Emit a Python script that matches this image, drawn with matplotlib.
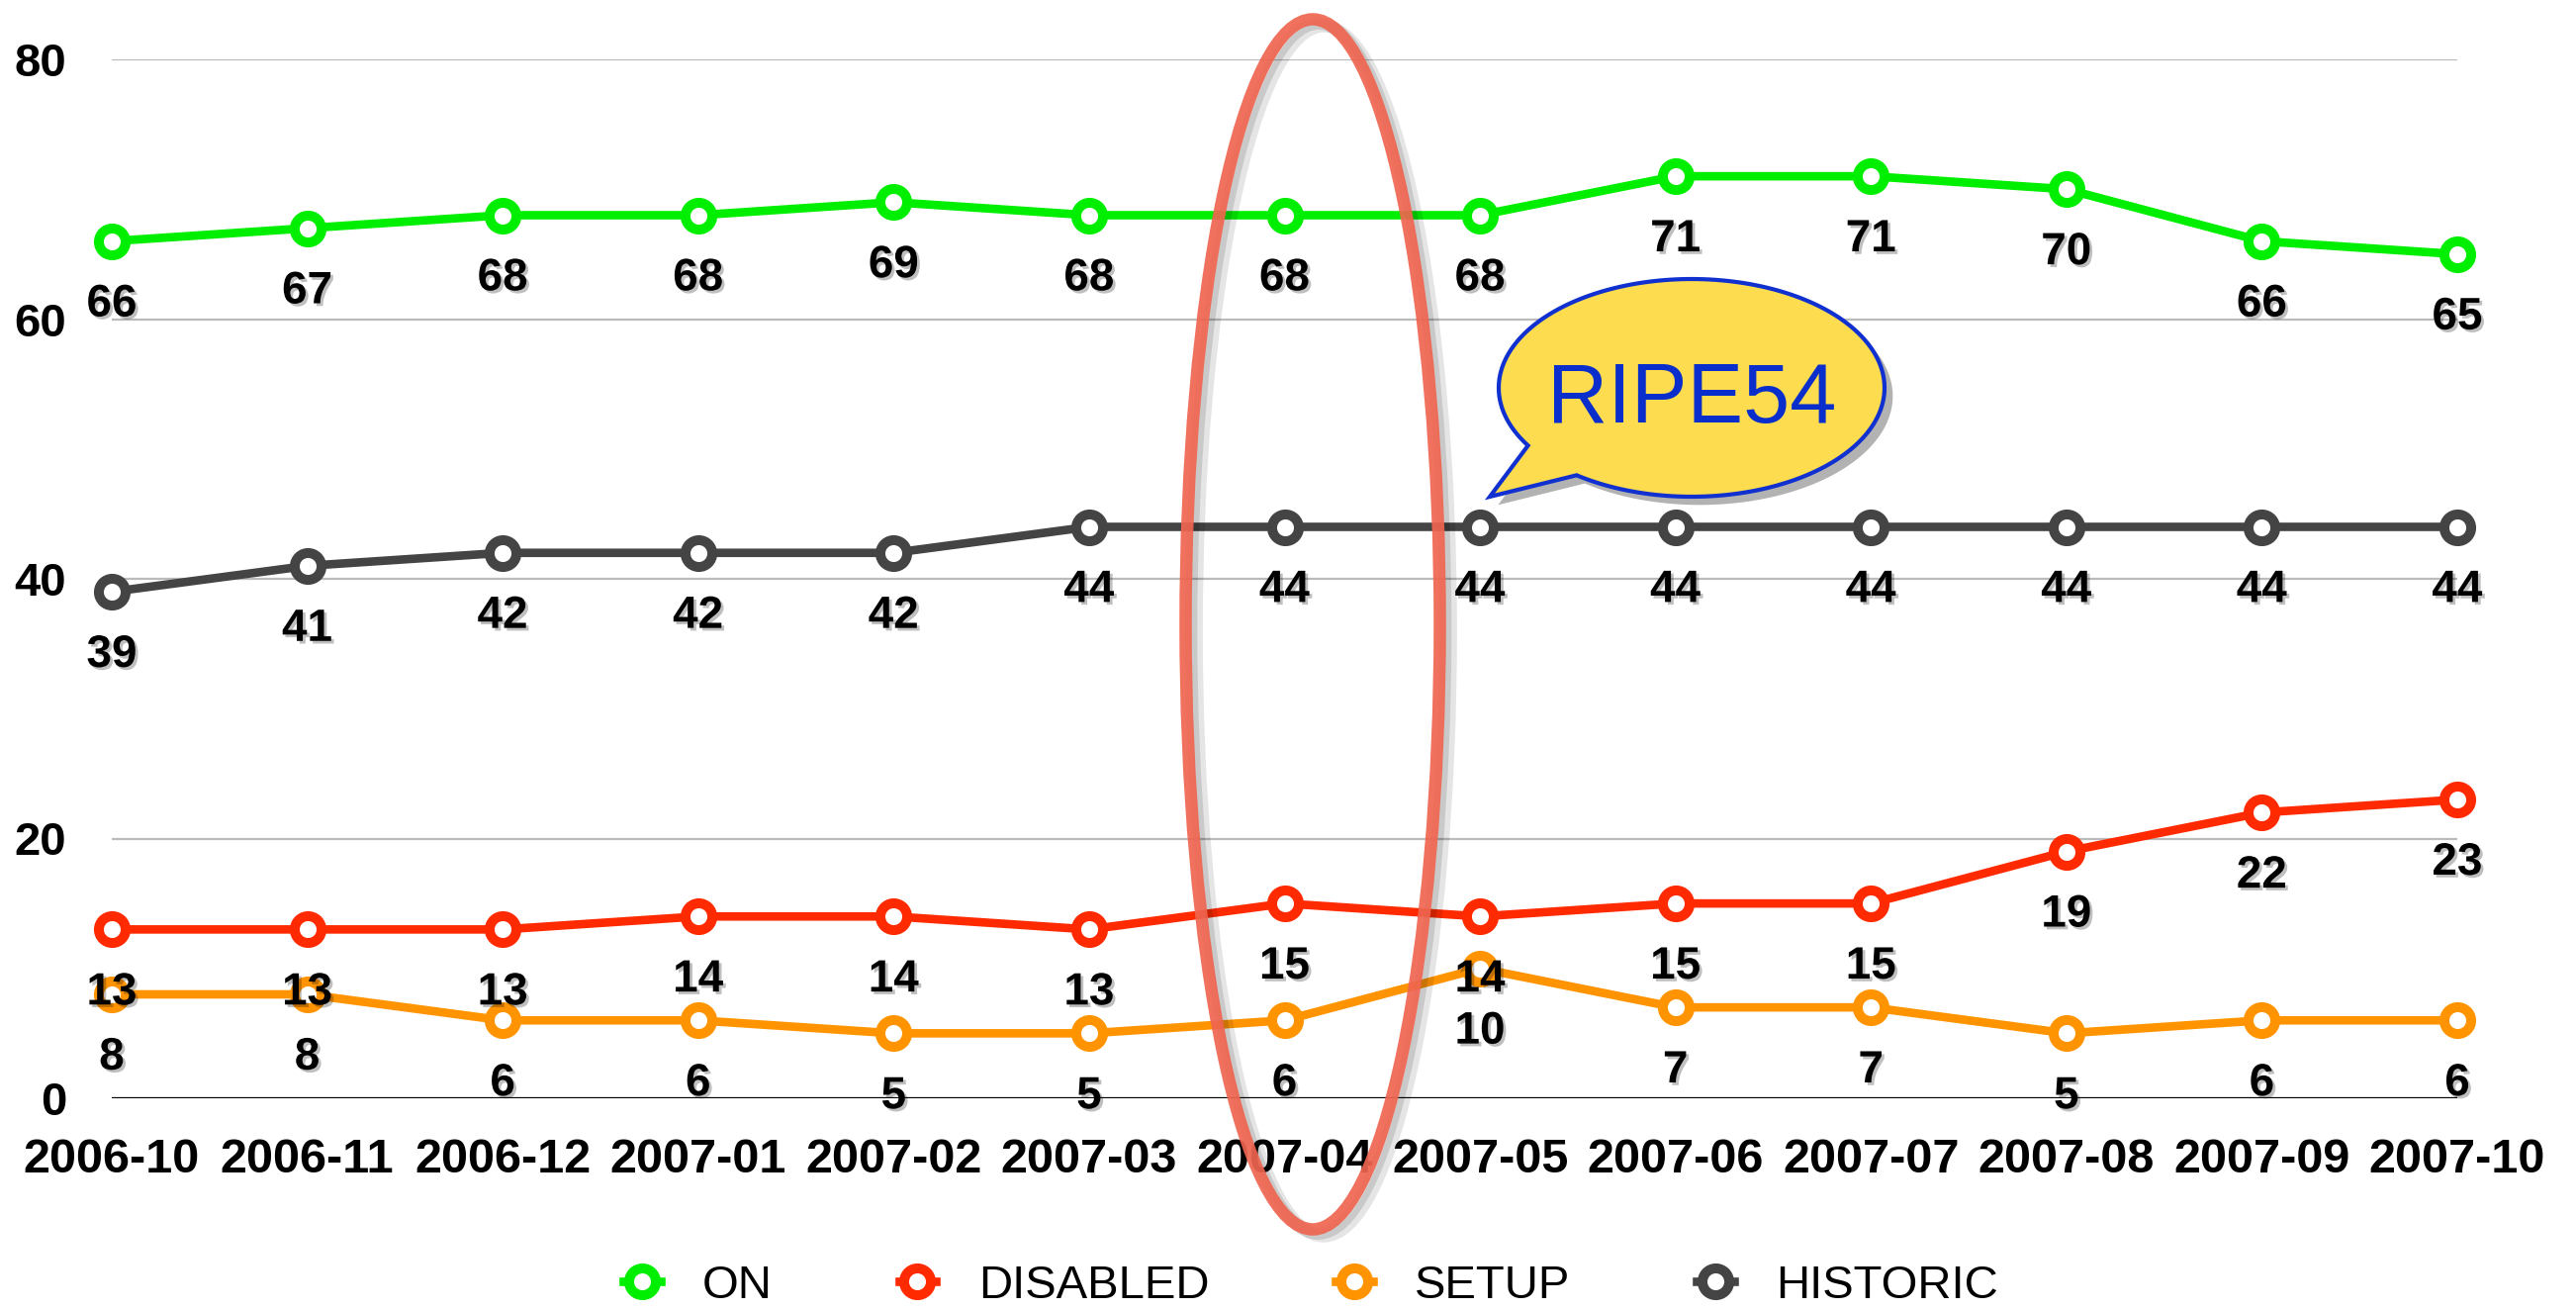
import numpy as np
import matplotlib
matplotlib.use("Agg")
from matplotlib import pyplot as plt
from matplotlib import patches
from matplotlib import patheffects as pe
from matplotlib.path import Path
from matplotlib.transforms import Affine2D

plt.rcParams["font.family"] = ["Liberation Sans", "DejaVu Sans"]

months = ["2006-10", "2006-11", "2006-12", "2007-01", "2007-02", "2007-03", "2007-04",
          "2007-05", "2007-06", "2007-07", "2007-08", "2007-09", "2007-10"]
on = [66, 67, 68, 68, 69, 68, 68, 68, 71, 71, 70, 66, 65]
disabled = [13, 13, 13, 14, 14, 13, 15, 14, 15, 15, 19, 22, 23]
setup = [8, 8, 6, 6, 5, 5, 6, 10, 7, 7, 5, 6, 6]
historic = [39, 41, 42, 42, 42, 44, 44, 44, 44, 44, 44, 44, 44]

series = [
    ("ON", on, "#00EE00"),
    ("DISABLED", disabled, "#FF2A00"),
    ("SETUP", setup, "#FF9400"),
    ("HISTORIC", historic, "#444444"),
]

W, H = 2604, 1324
fig = plt.figure(figsize=(W / 100, H / 100), dpi=100)
fig.set_facecolor("w")

# axes box in pixels: left 113, right 2484, top 60, bottom 1110
ax = fig.add_axes([113 / W, 1 - 1110 / H, (2484 - 113) / W, (1110 - 60) / H])
x = np.arange(len(months))
ax.set_xlim(0, len(months) - 1)
ax.set_ylim(0, 80)

for s in ax.spines.values():
    s.set_visible(False)
ax.set_yticks([0, 20, 40, 60, 80])
ax.yaxis.grid(True, color="#bbbbbb", lw=1.6)
ax.set_axisbelow(True)
ax.axhline(0, color="black", lw=1.6, zorder=2)
ax.tick_params(length=0)
ax.tick_params(axis="y", pad=33, labelsize=34)
ax.tick_params(axis="x", pad=29, labelsize=35)
ax.set_xticks(x)
ax.set_xticklabels(months)
for lbl in ax.get_xticklabels() + ax.get_yticklabels():
    lbl.set_fontweight("bold")

shadow = [pe.withSimplePatchShadow(offset=(2, -2), shadow_rgbFace="k", alpha=0.25)]

handles = []
for name, vals, color in series:
    (ln,) = ax.plot(x, vals, color=color, lw=6.2, marker="o", ms=19.5, mew=7.2,
                    mfc="white", mec=color, clip_on=False, zorder=3, label=name)
    handles.append(ln)

for name, vals, color in series:
    for i, v in zip(x, vals):
        ax.annotate(str(v), (i, v), xytext=(0, -46), textcoords="offset points",
                    ha="center", va="center", fontsize=33, fontweight="bold",
                    zorder=5, path_effects=shadow, annotation_clip=False)

# pixel (y down) -> figure
px = Affine2D().scale(1 / W, -1 / H).translate(0, 1) + fig.transFigure

# highlight ellipse round 2007-04
ring = patches.Ellipse((1327, 631), 257, 1223, transform=px, fill=False,
                       ec="#EF6550", lw=9, alpha=0.92, zorder=6)
ring.set_path_effects([pe.SimpleLineShadow(offset=(8, -5), shadow_color="k", alpha=0.1),
                       pe.SimpleLineShadow(offset=(4, -3), shadow_color="k", alpha=0.12),
                       pe.Normal()])
fig.add_artist(ring)

# speech bubble
cx, cy, a, b = 1710, 392, 195, 110
t = np.radians(np.linspace(148, 126.6 + 360, 200))
pts = np.column_stack([cx + a * np.cos(t), cy + b * np.sin(t)])
pts = np.vstack([pts, [[1506, 502]], pts[:1]])
codes = [Path.MOVETO] + [Path.LINETO] * (len(pts) - 2) + [Path.CLOSEPOLY]
bubble = patches.PathPatch(Path(pts, codes), transform=px, fc="#FDDC4F",
                           ec="#1030D0", lw=3, zorder=7)
bubble.set_path_effects([pe.withSimplePatchShadow(offset=(6, -6), shadow_rgbFace="k", alpha=0.3)])
fig.add_artist(bubble)
fig.text(1710 / W, 1 - 427 / H, "RIPE54", color="#0A2ECC", fontsize=61,
         ha="center", va="baseline", zorder=8)

fig.legend(handles, [s[0] for s in series], loc="center",
           bbox_to_anchor=(1325 / W, 1 - 1300 / H), ncol=4, frameon=False,
           fontsize=34, handlelength=0.8, handletextpad=0.9, columnspacing=2.7)

fig.savefig("out.png", dpi=100)
plt.close(fig)
